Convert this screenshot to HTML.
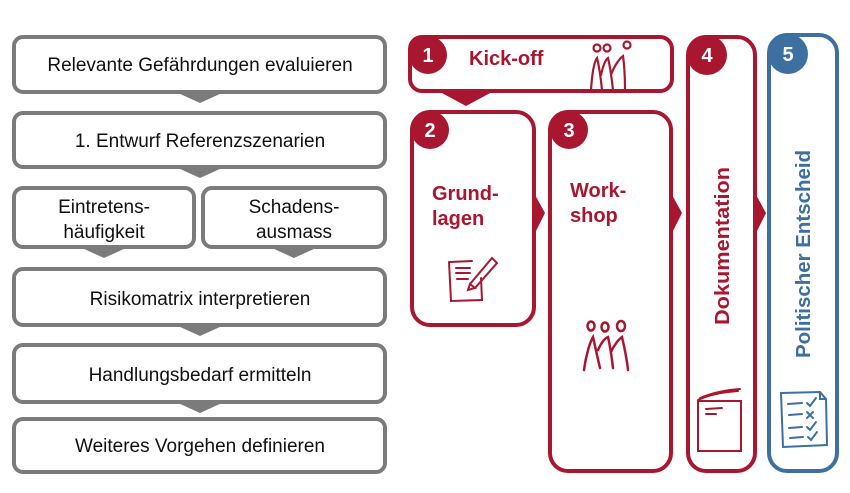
<!DOCTYPE html>
<html><head><meta charset="utf-8"><style>
html,body{margin:0;padding:0;background:#fff;}
svg{display:block;}
text{font-family:"Liberation Sans",sans-serif;}
</style></head><body>
<svg width="850" height="493" viewBox="0 0 850 493" xmlns="http://www.w3.org/2000/svg">
<g fill="#fff" stroke="#7b7b7b" stroke-width="4">
<rect x="14" y="37" width="371" height="55" rx="9"/>
<rect x="14" y="113" width="371" height="54" rx="9"/>
<rect x="14" y="188" width="180" height="59" rx="9"/>
<rect x="203" y="188" width="182" height="59" rx="9"/>
<rect x="14" y="269" width="371" height="56" rx="9"/>
<rect x="14" y="345" width="371" height="57" rx="9"/>
<rect x="14" y="419" width="371" height="53" rx="9"/>
</g>
<g fill="#7b7b7b">
<polygon points="178,93 222,93 200,103"/>
<polygon points="178,168 222,168 200,178"/>
<polygon points="82,248 126,248 104,258"/>
<polygon points="272,248 316,248 294,258"/>
<polygon points="178,326 222,326 200,336"/>
<polygon points="178,403 222,403 200,413"/>
</g>
<g fill="#111" font-size="19" text-anchor="middle">
<text x="200" y="71">Relevante Gefährdungen evaluieren</text>
<text x="200" y="147">1. Entwurf Referenzszenarien</text>
<text x="104" y="213">Eintretens-</text>
<text x="104" y="238">häufigkeit</text>
<text x="294" y="213">Schadens-</text>
<text x="294" y="238">ausmass</text>
<text x="200" y="305">Risikomatrix interpretieren</text>
<text x="200" y="381">Handlungsbedarf ermitteln</text>
<text x="200" y="452">Weiteres Vorgehen definieren</text>
</g>
<g fill="none" stroke="#a8172f" stroke-width="4">
<rect x="410" y="37" width="262" height="54" rx="12"/>
<rect x="412" y="112" width="122" height="213" rx="18"/>
<rect x="550" y="112" width="121" height="359" rx="18"/>
<rect x="688" y="37" width="67" height="434" rx="18"/>
</g>
<rect x="769" y="35" width="68" height="436" rx="18" fill="none" stroke="#3d6fa0" stroke-width="4"/>
<g fill="#a8172f">
<polygon points="440,92 492,92 466,106"/>
<polygon points="534,193 545,213 534,235"/>
<polygon points="671,193 682,213 671,235"/>
<polygon points="755,193 766,213 755,235"/>
<circle cx="428" cy="55" r="19"/>
<circle cx="430" cy="130" r="19"/>
<circle cx="569" cy="130" r="19"/>
<circle cx="707" cy="55" r="20"/>
</g>
<circle cx="788" cy="54" r="20" fill="#3d6fa0"/>
<g fill="#fff" font-size="20" font-weight="bold" text-anchor="middle">
<text x="428" y="62">1</text>
<text x="430" y="137">2</text>
<text x="569" y="137">3</text>
<text x="707" y="62">4</text>
<text x="788" y="61">5</text>
</g>
<g fill="#a8172f" font-size="20" font-weight="bold">
<text x="469" y="65">Kick-off</text>
<text x="432" y="200">Grund-</text>
<text x="432" y="225">lagen</text>
<text x="570" y="197">Work-</text>
<text x="570" y="222">shop</text>
<text transform="translate(729,325) rotate(-90)" textLength="158" lengthAdjust="spacingAndGlyphs">Dokumentation</text>
</g>
<text transform="translate(810,358) rotate(-90)" fill="#3d6fa0" font-size="20" font-weight="bold" textLength="208" lengthAdjust="spacingAndGlyphs">Politischer Entscheid</text>
<!-- kickoff people -->
<g fill="none" stroke="#a8172f" stroke-width="2.2" stroke-linecap="round">
<circle cx="597" cy="48" r="3.5"/><circle cx="607" cy="48" r="3.5"/><circle cx="627" cy="45" r="3.5"/>
<path d="M591,90 C592,75 594,62 597,58 C600,70 601,80 602,90 M601,75 C603,66 605,60 608,58 C611,70 612,82 613,90 M611,75 C614,66 620,58 623,56 C625,70 625,82 625,90"/>
</g>
<!-- workshop people -->
<g fill="none" stroke="#a8172f" stroke-width="2.5" stroke-linecap="round">
<ellipse cx="591" cy="326" rx="3.5" ry="4.5"/><ellipse cx="605" cy="327" rx="3.5" ry="4.5"/><ellipse cx="621" cy="326" rx="4" ry="5"/>
<path d="M584,370 C586,355 590,342 593,337 C596,350 598,360 600,368 M598,350 C601,343 605,338 608,337 C611,350 612,360 613,368 M611,352 C614,345 619,339 622,337 C625,350 627,360 628,370"/>
</g>
<!-- grundlagen icon -->
<g fill="none" stroke="#a8172f" stroke-width="2" stroke-linecap="round">
<path d="M450,262 L472,261 M449,262 L451,301 L482,300 L481,278"/>
<path d="M456,268 L470,268 M456,273 L470,273 M457,279 L468,279"/>
<path d="M470,284 L492,258 L497,263 L475,288 Z M468,290 L470,284 L475,288 Z"/>
</g>
<!-- dokumentation icon -->
<g fill="none" stroke="#a8172f" stroke-width="2" stroke-linecap="round">
<rect x="698" y="401" width="43" height="50"/>
<path d="M698,400 C710,394 725,392 738,391 M700,398 C712,393 726,390 740,389"/>
<path d="M706,409 L722,408 M706,414 L716,414"/>
</g>
<!-- politischer icon -->
<g fill="none" stroke="#3d6fa0" stroke-width="2" stroke-linecap="round">
<path d="M781,393 L820,392 L826,399 L827,445 L783,447 Z M820,392 L820,399 L826,399"/>
<path d="M788,404 L802,403 M789,415 L802,414 M789,428 L802,427 M790,438 L803,437"/>
<path d="M807,403 L810,406 L816,398 M807,412 L813,418 M813,412 L807,418 M807,427 L810,430 L816,422 M808,437 L811,440 L817,432"/>
</g>
</svg>
</body></html>
